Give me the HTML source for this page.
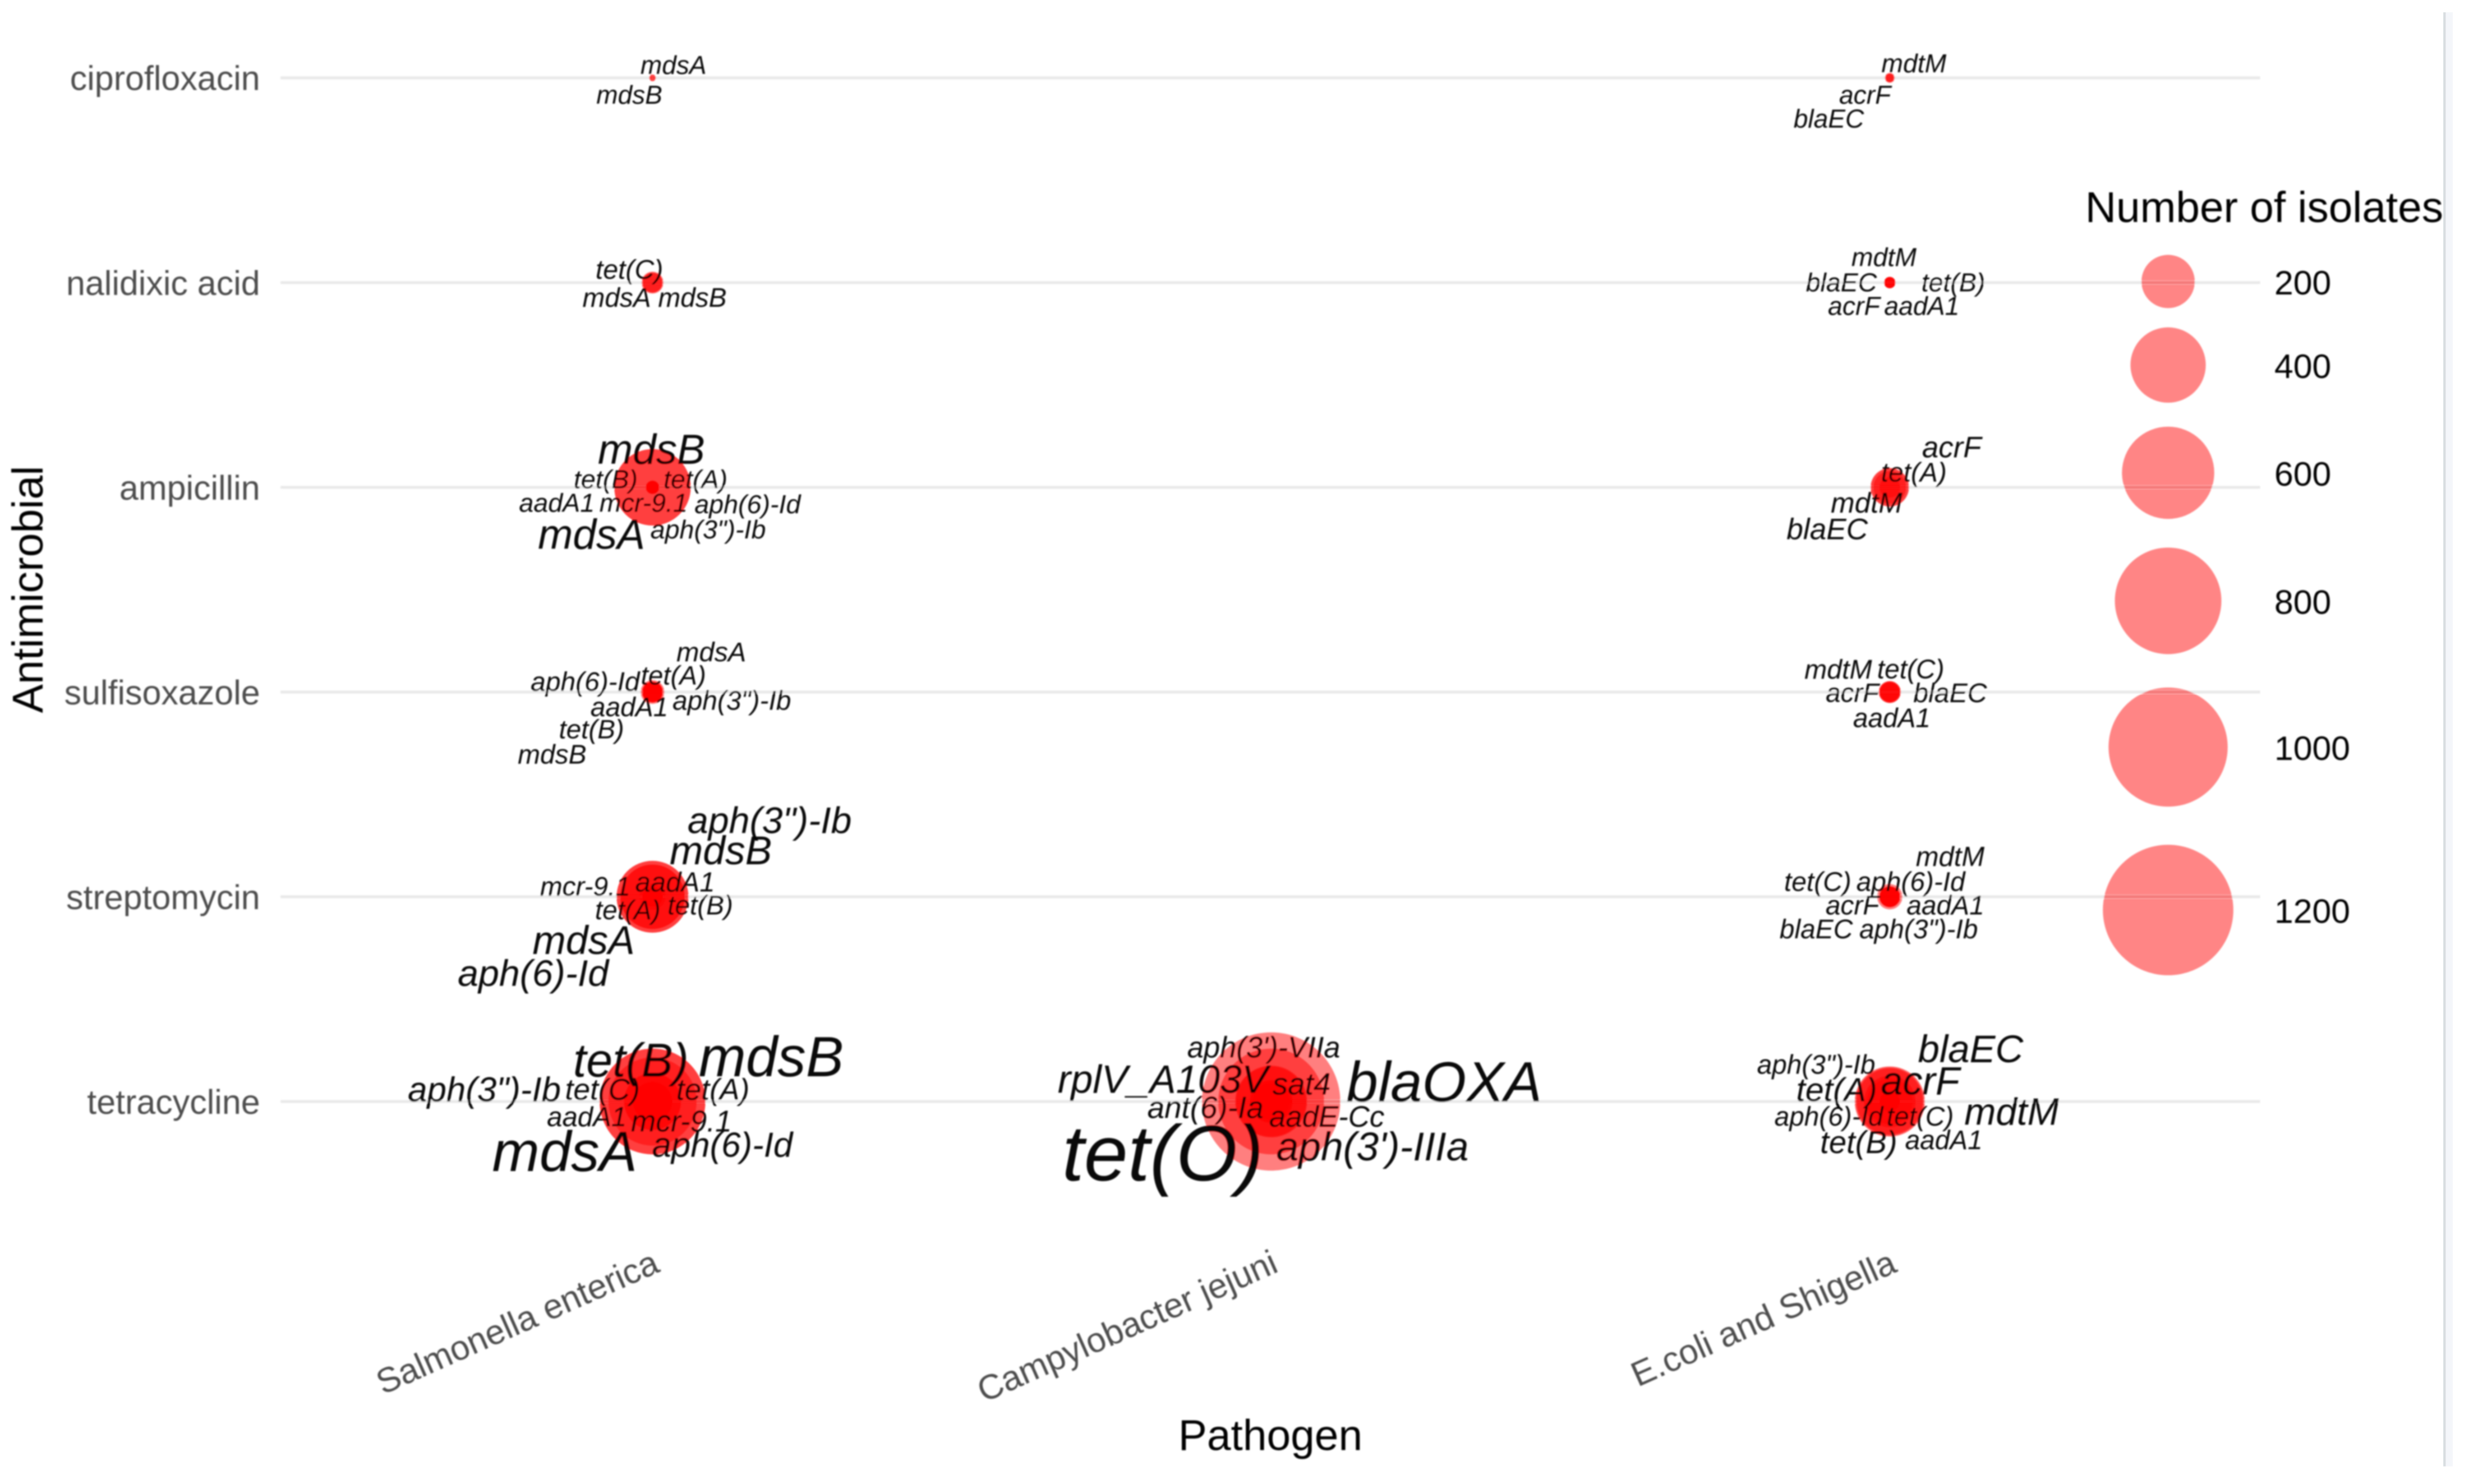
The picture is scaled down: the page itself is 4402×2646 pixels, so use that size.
<!DOCTYPE html>
<html lang="en">
<head>
<meta charset="utf-8">
<title>Antimicrobial resistance genes by pathogen</title>
<style>
html,body{margin:0;padding:0;background:#fff;width:4402px;height:2646px;overflow:hidden}
svg{display:block;font-family:"Liberation Sans",Arial,sans-serif}
</style>
</head>
<body>
<svg id="chart" xmlns="http://www.w3.org/2000/svg" width="4402" height="2646" viewBox="0 0 1566.5 941.6">
  <defs><filter id="soft" x="-2%" y="-2%" width="104%" height="104%"><feGaussianBlur stdDeviation="0.45"/></filter></defs>
  <rect x="0" y="0" width="1566.5" height="941.6" fill="#fff"/>
  <g id="root" filter="url(#soft)">
    <g id="grid"></g>
    <g id="legendMarks">
      <text x="1323" y="141" font-size="27.25" fill="#000">Number of isolates</text>
    </g>
    <g id="bubbles"></g>
    <g id="labels"></g>
    <g id="yTicks"></g>
    <g id="xTicks"></g>
    <text x="806" y="920" font-size="27.3" text-anchor="middle" fill="#000">Pathogen</text>
    <text transform="translate(27,374) rotate(-90)" font-size="27.4" text-anchor="middle" fill="#000">Antimicrobial</text>
  </g>
  <rect x="1550.2" y="7.8" width="6" height="922.6" fill="#f4f6fa"/>
  <rect x="1550.2" y="7.8" width="1.5" height="922.6" fill="#d8dde0"/>
</svg>
<script>
const pathogens = ["Salmonella enterica", "Campylobacter jejuni", "E.coli and Shigella"];
const antimicrobials = ["ciprofloxacin", "nalidixic acid", "ampicillin", "sulfisoxazole", "streptomycin", "tetracycline"];
const legendBreaks = [200, 400, 600, 800, 1000, 1200];

const facetPathogen = [0, 2, 0, 2, 0, 2, 0, 2, 0, 2, 0, 1, 2];
const facetDrug = [0, 0, 1, 1, 2, 2, 3, 3, 4, 4, 5, 5, 5];
const facetGenes = [
  ["mdsA", "mdsB"],
  ["mdtM", "acrF", "blaEC"],
  ["tet(C)", "mdsA", "mdsB"],
  ["mdtM", "blaEC", "tet(B)", "acrF", "aadA1"],
  ["mdsB", "tet(B)", "tet(A)", "aadA1", "mcr-9.1", "aph(6)-Id", "mdsA", "aph(3\")-Ib"],
  ["acrF", "tet(A)", "mdtM", "blaEC"],
  ["mdsA", "aph(6)-Id", "tet(A)", "aadA1", "aph(3\")-Ib", "tet(B)", "mdsB"],
  ["mdtM", "tet(C)", "acrF", "blaEC", "aadA1"],
  ["aph(3\")-Ib", "mdsB", "mcr-9.1", "aadA1", "tet(A)", "tet(B)", "mdsA", "aph(6)-Id"],
  ["mdtM", "tet(C)", "aph(6)-Id", "acrF", "aadA1", "blaEC", "aph(3\")-Ib"],
  ["tet(B)", "mdsB", "aph(3\")-Ib", "tet(C)", "tet(A)", "aadA1", "mcr-9.1", "mdsA", "aph(6)-Id"],
  ["aph(3')-VIIa", "rplV_A103V", "sat4", "blaOXA", "ant(6)-Ia", "aadE-Cc", "tet(O)", "aph(3')-IIIa"],
  ["aph(3\")-Ib", "tet(A)", "blaEC", "acrF", "mdtM", "aph(6)-Id", "tet(C)", "tet(B)", "aadA1"]
];
const facetCounts = [
  [3, 3],
  [7, 5, 5],
  [34, 28, 28],
  [9, 9, 9, 9, 9],
  [412, 12, 12, 12, 12, 12, 412, 12],
  [100, 30, 75, 105],
  [40, 30, 25, 30, 30, 25, 30],
  [34, 30, 25, 34, 28],
  [292, 364, 28, 48, 28, 28, 364, 292],
  [45, 30, 28, 28, 30, 30, 30],
  [548, 788, 228, 108, 108, 48, 108, 788, 228],
  [96, 348, 128, 788, 128, 100, 1348, 364],
  [28, 188, 330, 348, 308, 28, 28, 148, 28]
];

/* Word-cloud placement of each label relative to its bubble (layout only, not data). */
const labelNudges = [
  [[14,-7],[-14,12]],
  [[16,-8],[-15,12],[-38,27]],
  [[-14,-7],[-22,11],[26,11]],
  [[-3,-15],[-30,1],[41,1],[-22,16],[21,16]],
  [[0,-23],[-29,-4],[28,-4],[-60,11],[-5,11],[61,12],[-38,31],[36,28]],
  [[40,-24],[16,-8],[-14,11],[-39,28]],
  [[38,-24],[-42,-5],[14,-9],[-14,11],[51,7],[-38,25],[-63,41]],
  [[-32,-13],[14,-13],[-23,2],[39,2],[2,18]],
  [[75,-47],[44,-28],[-42,-5],[15,-8],[-15,10],[31,7],[-43,29],[-75,50]],
  [[39,-24],[-45,-8],[14,-8],[-23,7],[36,7],[-46,22],[19,22]],
  [[-13,-25],[76,-27],[-106,-6],[-31,-6],[39,-6],[-41,11],[19,14],[-55,33],[45,29]],
  [[-4,-33],[-68,-13],[20,-10],[110.5,-11],[-41,5],[36,11],[-68,34],[65,30]],
  [[-46,-22],[-33,-6],[52,-32],[20,-12],[78,8],[-38,11],[20,11],[-19,27],[35,26]]
];

const NS = "http://www.w3.org/2000/svg";
function xScale(i) { return 414 + 392.5 * i; }
function yScale(i) { return 49.4 + 129.9 * i; }
function rScale(n) { return 1.195 * Math.sqrt(n); }
function fontScale(n) { return 16.3 + 0.025 * n; }
function make(tag, parent, attrs, text) {
  const el = document.createElementNS(NS, tag);
  for (const k in attrs) el.setAttribute(k, attrs[k]);
  if (text !== undefined) el.textContent = text;
  parent.appendChild(el);
  return el;
}

const grid = document.getElementById("grid");
const yTicks = document.getElementById("yTicks");
antimicrobials.forEach(function (name, i) {
  const line = make("line", grid, {x1: 178, x2: 1434, y1: yScale(i), y2: yScale(i), stroke: "#e9e9e9", "stroke-width": 1.8});
  
  
  const t = make("text", yTicks, {x: 165, y: yScale(i) + 7.8, "text-anchor": "end", "font-size": 21.7, fill: "#4d4d4d"}, name);
  
  
});

const xTicks = document.getElementById("xTicks");
pathogens.forEach(function (name, i) {
  const t = make("text", xTicks, {transform: "translate(" + (xScale(i) + 5.5) + ",806.5) rotate(-24)", "text-anchor": "end", "font-size": 22, fill: "#4d4d4d"}, name);
  
  
});

const bubbles = document.getElementById("bubbles");
const labels = document.getElementById("labels");
facetGenes.forEach(function (genes, f) {
  const cx = xScale(facetPathogen[f]);
  const cy = yScale(facetDrug[f]);
  genes.forEach(function (gene, g) {
    const n = facetCounts[f][g];
    const c = make("circle", bubbles, {cx: cx, cy: cy, r: rScale(n), fill: "#ff0000", "fill-opacity": 0.5});
    
    
    const nudge = labelNudges[f][g];
    const t = make("text", labels, {x: cx + nudge[0] - 0.7, y: cy + nudge[1] - 1.2, "text-anchor": "middle", "dominant-baseline": "central", "font-size": fontScale(n), "font-style": "italic", fill: "#000", "fill-opacity": 0.96}, gene);
    
    
  });
});

const legendMarks = document.getElementById("legendMarks");
let legendY = 178.6;
legendBreaks.forEach(function (b, i) {
  if (i > 0) legendY += rScale(legendBreaks[i - 1]) + rScale(b) + 9.2 + 3 * i;
  const c = make("circle", legendMarks, {cx: 1375.6, cy: legendY, r: rScale(b), fill: "#ff0000", "fill-opacity": 0.48});
  
  
  const t = make("text", legendMarks, {x: 1443, y: legendY + 8.2, "font-size": 21.6, fill: "#000"}, String(b));
  
  
});
</script>
</body>
</html>
